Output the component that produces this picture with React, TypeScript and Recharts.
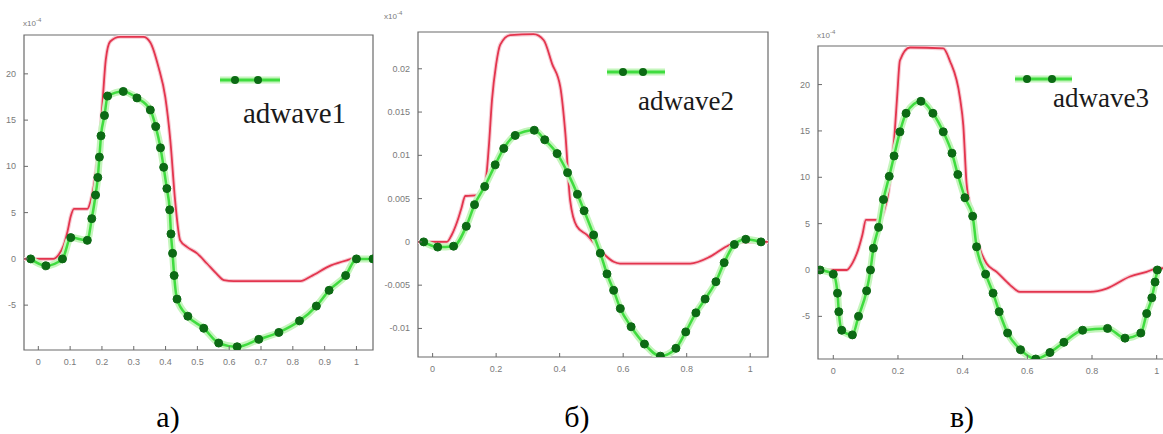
import { LineChart, Line, XAxis, YAxis, Legend, ReferenceArea } from 'recharts';

type Pt = [number, number];

const xTicksA = [0, 0.1, 0.2, 0.3, 0.4, 0.5, 0.6, 0.7, 0.8, 0.9, 1];
const xTicksBC = [0, 0.2, 0.4, 0.6, 0.8, 1];
const yTicksAC = [-5, 0, 5, 10, 15, 20];
const yTicksB = [-0.01, -0.005, 0, 0.005, 0.01, 0.015, 0.02];

const seriesNames = ['adwave1', 'adwave2', 'adwave3'];
const captions = ['а)', 'б)', 'в)'];

// red reference curve, panel а (x10^-4)
const redA: Pt[] = [
  [-0.045, 0], [0.047, 0], [0.065, 0.5], [0.079, 1.4], [0.092, 3], [0.102, 4.6], [0.112, 5.4],
  [0.154, 5.4], [0.165, 6.3], [0.175, 8], [0.185, 10.5], [0.194, 13.2], [0.203, 17.5], [0.212, 21.5],
  [0.226, 23.5], [0.257, 24], [0.33, 24], [0.352, 23.4], [0.378, 20.7], [0.399, 17.5], [0.415, 12.8],
  [0.43, 6.3], [0.446, 2], [0.467, 1.3], [0.499, 0.6], [0.53, -0.5], [0.56, -1.6], [0.583, -2.3],
  [0.614, -2.4], [0.824, -2.4], [0.856, -1.9], [0.92, -0.7], [0.97, -0.15], [1.0, 0.1], [1.052, 0],
];
const greenA: Pt[] = [
  [-0.024, 0], [0.024, -0.75], [0.076, 0], [0.102, 2.3], [0.154, 2.0], [0.168, 4.35], [0.18, 6.9],
  [0.187, 8.8], [0.192, 11], [0.197, 13.3], [0.208, 15.5], [0.218, 17.6], [0.267, 18.1], [0.31, 17.4],
  [0.352, 16.1], [0.369, 14.3], [0.384, 12], [0.394, 9.9], [0.404, 7.6], [0.413, 5.3], [0.417, 2.7],
  [0.422, 0.6], [0.427, -1.8], [0.436, -4.35], [0.47, -6.2], [0.52, -7.5], [0.567, -9.1], [0.625, -9.5],
  [0.693, -8.7], [0.756, -7.95], [0.821, -6.7], [0.874, -5.1], [0.914, -3.4], [0.966, -1.8], [1.0, 0],
  [1.052, 0],
];

// panel б
const redB: Pt[] = [
  [-0.046, 0], [0.045, 0], [0.06, 0.0008], [0.077, 0.0023], [0.09, 0.0038], [0.103, 0.0053],
  [0.145, 0.0054], [0.166, 0.0068], [0.177, 0.011], [0.187, 0.0164], [0.2, 0.0205], [0.213, 0.0228],
  [0.245, 0.0239], [0.318, 0.024], [0.35, 0.0233], [0.376, 0.0206], [0.402, 0.0179], [0.418, 0.0125],
  [0.433, 0.0048], [0.454, 0.0018], [0.486, 0.0008], [0.517, -0.0005], [0.545, -0.0016], [0.57, -0.0023],
  [0.59, -0.0025], [0.811, -0.0025], [0.874, -0.0017], [0.927, -0.0005], [0.968, 0], [1.056, 0],
];
const greenB: Pt[] = [
  [-0.028, 0], [0.016, -0.0006], [0.066, -0.0005], [0.106, 0.0018], [0.132, 0.0043], [0.164, 0.0064],
  [0.197, 0.0089], [0.224, 0.0108], [0.26, 0.0123], [0.32, 0.0129], [0.353, 0.0118], [0.392, 0.0102],
  [0.425, 0.008], [0.456, 0.0055], [0.477, 0.0036], [0.507, 0.0008], [0.528, -0.0013], [0.549, -0.0037],
  [0.57, -0.0056], [0.591, -0.0077], [0.625, -0.0098], [0.667, -0.0118], [0.717, -0.0132],
  [0.766, -0.0123], [0.797, -0.0104], [0.829, -0.0082], [0.858, -0.0066], [0.892, -0.0046],
  [0.918, -0.0024], [0.95, -0.0003], [0.986, 0.0003], [1.034, 0],
];

// panel в
const redC: Pt[] = [
  [-0.047, 0], [0.041, 0], [0.06, 0.8], [0.077, 2.2], [0.09, 3.8], [0.101, 5.4], [0.144, 5.4],
  [0.158, 6.5], [0.17, 8.3], [0.18, 11.2], [0.19, 14.9], [0.198, 19], [0.206, 22.6], [0.237, 24],
  [0.34, 23.9], [0.36, 22.6], [0.392, 18.5], [0.402, 15.6], [0.412, 9.4], [0.428, 6.2], [0.454, 2.2],
  [0.474, 0.7], [0.505, -0.2], [0.546, -1.6], [0.577, -2.35], [0.794, -2.35], [0.845, -2], [0.918, -0.7],
  [0.969, -0.2], [1.0, 0.15], [1.03, 0.2],
];
const greenC: Pt[] = [
  [-0.041, 0], [0, -0.45], [0.013, -2.5], [0.017, -4.5], [0.026, -6.5], [0.059, -7], [0.078, -5],
  [0.103, -2.25], [0.115, 0], [0.124, 2.35], [0.14, 4.6], [0.155, 7.6], [0.173, 10.1], [0.188, 12.3],
  [0.206, 14.9], [0.225, 16.9], [0.271, 18.2], [0.308, 16.9], [0.34, 14.9], [0.367, 12.6], [0.385, 10.3],
  [0.407, 7.8], [0.431, 5.8], [0.443, 2.5], [0.471, -0.45], [0.494, -2.5], [0.513, -4.5], [0.539, -6.8],
  [0.579, -8.6], [0.626, -9.6], [0.67, -8.9], [0.713, -7.8], [0.771, -6.5], [0.848, -6.3], [0.902, -7.35],
  [0.951, -6.8], [0.969, -4.7], [0.985, -3.0], [0.995, -1.3], [1.002, 0],
];

const toRows = (pts: Pt[]) => pts.map(([x, y]) => ({ x, y }));

const AXIS = '#6a6a6a';
const TICK_TXT = '#7a7a7a';
const RED = '#e3354e';
const GREEN = '#3fdc3f';
const DOT = '#0c6a14';
const tickFont = { fontFamily: 'Liberation Sans', fontSize: 9, fill: TICK_TXT };

function Panel(props: any) {
  const { plot, xDomain, yDomain, xTicks, yTicks, red, green, name, lg, caption, cap, exp } = props;
  const padL = 42;
  const padR = 30;
  const left = plot.l - padL;
  const w = plot.r - plot.l + padL + padR;
  const h = plot.b + 30;
  const redRows = toRows(red);
  const greenRows = toRows(green);

  return (
    <>
      <div style={{ position: 'absolute', left, top: 0 }}>
        <LineChart width={w} height={h} margin={{ top: plot.t, right: padR, bottom: 10, left: 0 }}>
          <XAxis
            xAxisId="b" type="number" dataKey="x" domain={xDomain} ticks={xTicks} allowDataOverflow
            interval={0} height={20} tickSize={0} tickMargin={0} tickLine={false} axisLine={false}
            tick={(p: any) => (
              <g>
                <line x1={p.x} x2={p.x} y1={p.y} y2={p.y - 4} stroke={AXIS} />
                <text x={p.x} y={p.y + 15} textAnchor="middle" {...tickFont}>{String(p.payload.value)}</text>
              </g>
            )}
          />
          <XAxis
            xAxisId="t" orientation="top" type="number" dataKey="x" domain={xDomain} ticks={xTicks}
            allowDataOverflow interval={0} height={0} tickSize={0} tickMargin={0} tickLine={false}
            axisLine={false}
            tick={(p: any) => <line x1={p.x} x2={p.x} y1={p.y} y2={p.y + 4} stroke={AXIS} />}
          />
          <YAxis
            yAxisId="l" type="number" domain={yDomain} ticks={yTicks} allowDataOverflow interval={0}
            width={padL} tickSize={0} tickMargin={0} tickLine={false} axisLine={false}
            tick={(p: any) => (
              <g>
                <line x1={p.x} x2={p.x + 4} y1={p.y} y2={p.y} stroke={AXIS} />
                <text x={p.x - 8} y={p.y + 3} textAnchor="end" {...tickFont}>{String(p.payload.value)}</text>
              </g>
            )}
          />
          <YAxis
            yAxisId="r" orientation="right" type="number" domain={yDomain} ticks={yTicks} allowDataOverflow
            interval={0} width={0} tickSize={0} tickMargin={0} tickLine={false} axisLine={false}
            tick={(p: any) => <line x1={p.x} x2={p.x - 4} y1={p.y} y2={p.y} stroke={AXIS} />}
          />
          <ReferenceArea
            xAxisId="b" yAxisId="l" x1={xDomain[0]} x2={xDomain[1]} y1={yDomain[0]} y2={yDomain[1]}
            fill="none" stroke={AXIS} strokeWidth={1.2} ifOverflow="visible"
          />
          <Legend
            verticalAlign="middle" align="center" layout="horizontal"
            wrapperStyle={{ left: lg.x - left, top: lg.y, width: 170, height: 80 }}
            content={() => (
              <svg width={170} height={80} style={{ display: 'block' }}>
                <line x1={0} x2={lg.len} y1={20} y2={20} stroke="#c4f5bc" strokeWidth={7} />
                <line x1={0} x2={lg.len} y1={20} y2={20} stroke={GREEN} strokeWidth={3} />
                {lg.dots.map((d: number) => <circle key={d} cx={d} cy={20} r={4} fill={DOT} />)}
                <text x={lg.tx} y={20 + lg.ty} fontFamily="Liberation Serif" fontSize={lg.fs} fill="#1a1a1a">{name}</text>
              </svg>
            )}
          />
          <Line xAxisId="t" yAxisId="r" data={redRows} dataKey="y" type="monotone" dot={false}
            stroke="#f7ccd4" strokeWidth={4} isAnimationActive={false} />
          <Line xAxisId="b" yAxisId="l" data={redRows} dataKey="y" type="monotone" dot={false}
            stroke={RED} strokeWidth={1.8} isAnimationActive={false} />
          <Line xAxisId="b" yAxisId="l" data={greenRows} dataKey="y" type="monotone" dot={false}
            stroke="#c4f5bc" strokeWidth={7} isAnimationActive={false} />
          <Line xAxisId="b" yAxisId="l" data={greenRows} dataKey="y" type="monotone"
            dot={{ r: 4, fill: DOT, stroke: DOT, strokeWidth: 1 }}
            stroke={GREEN} strokeWidth={2.5} isAnimationActive={false} />
        </LineChart>
      </div>
      <div style={{ position: 'absolute', left: exp.x, top: exp.y, fontFamily: 'Liberation Sans', fontSize: 8, color: TICK_TXT }}>
        x10<sup style={{ fontSize: 6 }}>-4</sup>
      </div>
      <div style={{
        position: 'absolute', left: cap - 40, top: 402, width: 80, textAlign: 'center',
        fontFamily: 'Liberation Serif', fontSize: 30, lineHeight: '30px', color: '#000',
      }}>
        {caption}
      </div>
    </>
  );
}

export default function App() {
  return (
    <div style={{ position: 'absolute', left: 0, top: 0, width: 1163, height: 434, overflow: 'hidden', background: '#fff' }}>
      <Panel
        plot={{ l: 24, r: 373, t: 35, b: 350 }} xDomain={[-0.045, 1.052]} yDomain={[-9.85, 24.2]}
        xTicks={xTicksA} yTicks={yTicksAC} red={redA} green={greenA} name={seriesNames[0]}
        lg={{ x: 220, y: 60, len: 60, dots: [15, 38], tx: 23, ty: 43, fs: 29 }}
        exp={{ x: 23, y: 17 }} caption={captions[0]} cap={168}
      />
      <Panel
        plot={{ l: 418, r: 768, t: 32, b: 357 }} xDomain={[-0.046, 1.056]} yDomain={[-0.0133, 0.02425]}
        xTicks={xTicksBC} yTicks={yTicksB} red={redB} green={greenB} name={seriesNames[1]}
        lg={{ x: 607, y: 52, len: 58, dots: [16, 36], tx: 31, ty: 38, fs: 27 }}
        exp={{ x: 384, y: 10 }} caption={captions[1]} cap={577}
      />
      <Panel
        plot={{ l: 818, r: 1166, t: 46, b: 359 }} xDomain={[-0.0473, 1.0288]} yDomain={[-9.6, 24.16]}
        xTicks={xTicksBC} yTicks={yTicksAC} red={redC} green={greenC} name={seriesNames[2]}
        lg={{ x: 1015, y: 59, len: 57, dots: [12, 37], tx: 38, ty: 28, fs: 27 }}
        exp={{ x: 817, y: 29 }} caption={captions[2]} cap={962}
      />
    </div>
  );
}
